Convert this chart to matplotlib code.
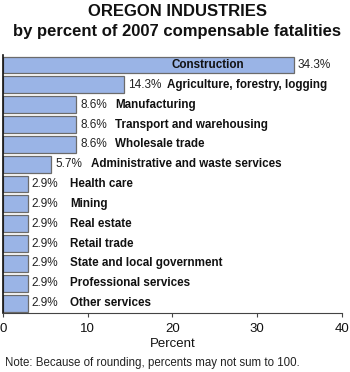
import matplotlib
matplotlib.use("Agg")
import matplotlib.pyplot as plt

plt.rcParams['font.family'] = ['Liberation Sans', 'DejaVu Sans']

# Data, top to bottom
industries = ['Construction', 'Agriculture, forestry, logging', 'Manufacturing',
              'Transport and warehousing', 'Wholesale trade',
              'Administrative and waste services', 'Health care', 'Mining',
              'Real estate', 'Retail trade', 'State and local government',
              'Professional services', 'Other services']
percents = [34.3, 14.3, 8.6, 8.6, 8.6, 5.7, 2.9, 2.9, 2.9, 2.9, 2.9, 2.9, 2.9]
xticks = [0, 10, 20, 30, 40]

fig = plt.figure(figsize=(3.5, 3.72), dpi=100)
ax = fig.add_axes([0.0086, 0.1586, 0.9685, 0.6934])

ypos = list(range(len(industries)))
ax.barh(ypos, percents, height=0.85, color='#9ab4e6', edgecolor='#6b6b6b',
        linewidth=0.9)
ax.set_ylim(len(industries) - 0.5, -0.5)
ax.set_xlim(0, 40)

for y, (name, p) in enumerate(zip(industries, percents)):
    val = ax.annotate(f'{p}%', xy=(p, y), xytext=(3, 0), textcoords='offset points',
                      va='center', ha='left', fontsize=8.5, color='#222222')
    if name == 'Construction':
        ax.text(24.2, y, name, va='center', ha='center', fontsize=8.4,
                fontweight='bold', color='#111111')
    else:
        # spacing between value and name differs a little in the original
        if p < 5:
            gap = 8.5
        elif p > 10:
            gap = 3.5
        else:
            gap = 6
        ax.annotate(name, xy=(1, 0.5), xycoords=val, xytext=(gap, 0),
                    textcoords='offset points', va='center', ha='left',
                    fontsize=8.4, fontweight='bold', color='#111111')

ax.set_yticks([])
ax.set_xticks(xticks)
ax.tick_params(axis='x', labelsize=9.5, length=3, width=0.8, color='#444444',
               pad=4, labelcolor='#111111')
for s in ['top', 'right']:
    ax.spines[s].set_visible(False)
ax.spines['left'].set_color('#111111')
ax.spines['bottom'].set_color('#444444')
ax.spines['left'].set_linewidth(1.2)
ax.spines['bottom'].set_linewidth(0.8)

ax.set_xlabel('Percent', fontsize=9.5, labelpad=2, color='#111111')

fig.text(0.506, 0.968, 'OREGON INDUSTRIES', ha='center', va='center',
         fontsize=12, fontweight='bold', color='#111111')
fig.text(0.506, 0.914, 'by percent of 2007 compensable fatalities', ha='center',
         va='center', fontsize=12, fontweight='bold', color='#111111')
fig.text(0.014, 0.025, 'Note: Because of rounding, percents may not sum to 100.',
         ha='left', va='center', fontsize=8.3, color='#222222')

fig.savefig('out.png', dpi=100)
